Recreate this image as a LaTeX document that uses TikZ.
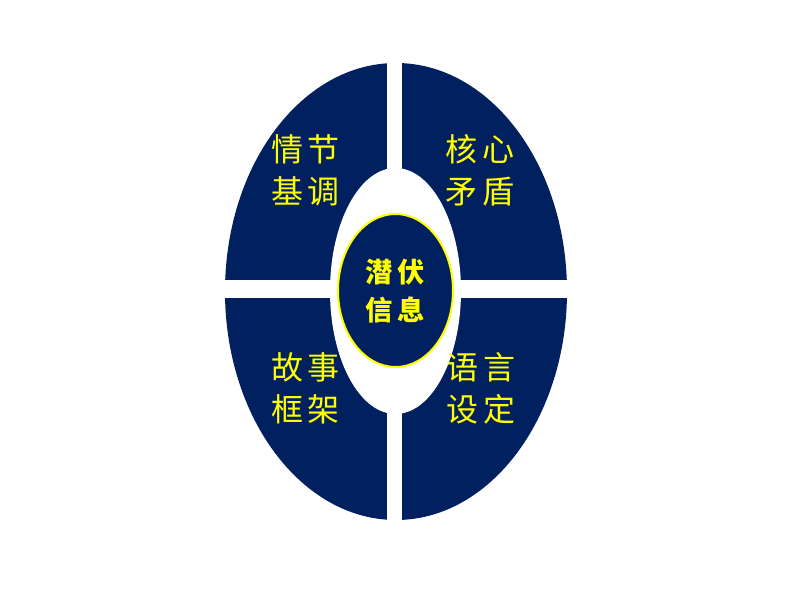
\documentclass[tikz,border=0pt]{standalone}
\usepackage{fontspec}
\newfontfamily\cjk{Noto Sans CJK SC}
\definecolor{navy}{HTML}{002060}
\definecolor{ylw}{HTML}{FFFF00}
\tikzset{
  outerlabel/.style={text=ylw, font=\cjk\fontsize{24}{31.5}\selectfont, align=center, inner sep=0pt},
  centerlabel/.style={text=ylw, font=\cjk\bfseries\fontsize{20.5}{29}\selectfont, align=center, inner sep=0pt}
}
\begin{document}
\begin{tikzpicture}[x=0.75pt,y=-0.75pt]
\useasboundingbox (0,0) rectangle (794,596);
\fill[white] (0,0) rectangle (794,596);
% outer ellipse
\fill[navy] (396,291.5) ellipse [x radius=171, y radius=228.5];
% white cross bars
\fill[white] (387,40) rectangle (402,545);
\fill[white] (205,280) rectangle (590,298);
% inner white ellipse
\fill[white] (395.5,291) ellipse [x radius=65.5, y radius=123];
% centre ellipse
\filldraw[fill=navy, draw=ylw, line width=1.5pt] (395.5,290.5) ellipse [x radius=57.5, y radius=76.5];
% labels
\node[outerlabel] (tl) at (305.5,170) {情\hspace{3.5pt}节\\基\hspace{3.5pt}调};
\node[outerlabel] (tr) at (480,170) {核\hspace{3.5pt}心\\矛\hspace{3.5pt}盾};
\node[outerlabel] (bl) at (305.5,388.5) {故\hspace{3.5pt}事\\框\hspace{3.5pt}架};
\node[outerlabel] (br) at (481,388.5) {语\hspace{3.5pt}言\\设\hspace{3.5pt}定};
\node[centerlabel] (c) at (395,291) {潜\hspace{4pt}伏\\信\hspace{4pt}息};
\end{tikzpicture}
\end{document}
